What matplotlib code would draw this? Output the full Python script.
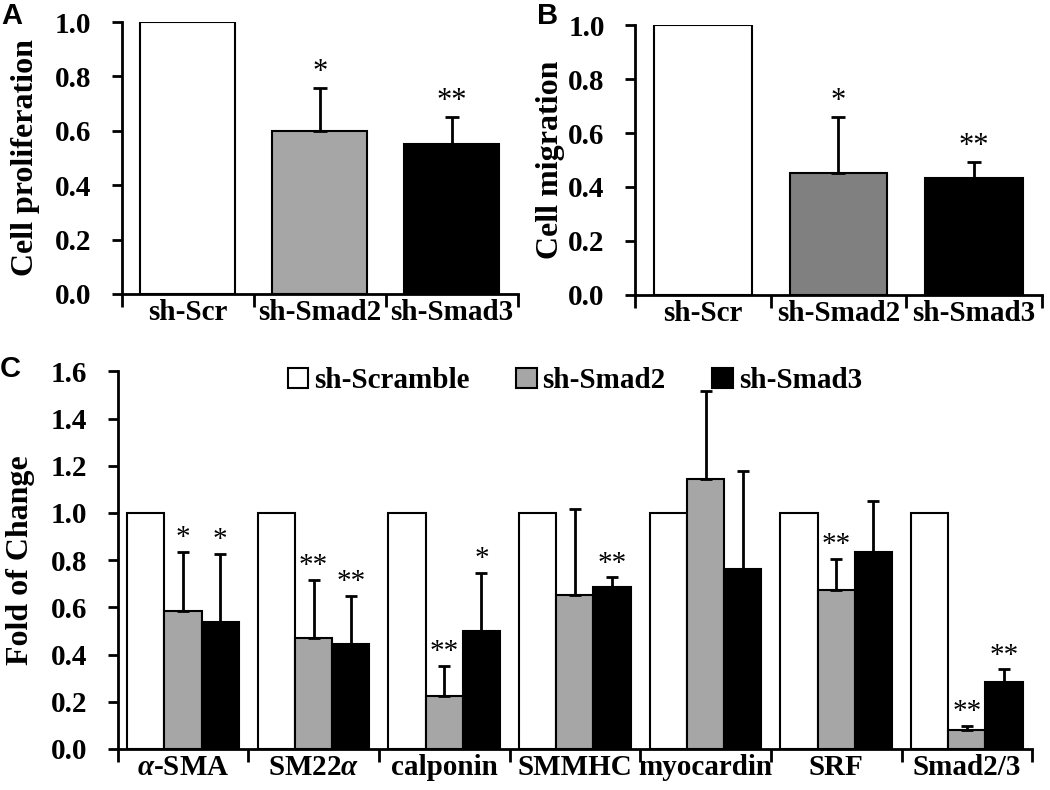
import matplotlib.pyplot as plt
import numpy as np

plt.rcParams['font.family'] = 'Liberation Serif'
plt.rcParams['font.weight'] = 'bold'

# panel A / B data
ab_groups = ['sh-Scr', 'sh-Smad2', 'sh-Smad3']
prolif = [1.0, 0.60, 0.55]
prolif_err = [0, 0.157, 0.10]
prolif_stars = ['', '*', '**']
migr = [1.0, 0.45, 0.433]
migr_err = [0, 0.21, 0.06]
migr_stars = ['', '*', '**']

# panel C data
genes = ['$\\mathit{\\alpha}$-SMA', 'SM22$\\mathit{\\alpha}$', 'calponin', 'SMMHC', 'myocardin', 'SRF', 'Smad2/3']
scramble = [1, 1, 1, 1, 1, 1, 1]
smad2 = [0.585, 0.47, 0.225, 0.653, 1.144, 0.674, 0.08]
smad2_err = [0.25, 0.246, 0.127, 0.364, 0.373, 0.131, 0.017]
smad2_stars = ['*', '**', '**', '', '', '**', '**']
smad3 = [0.538, 0.445, 0.50, 0.686, 0.763, 0.835, 0.283]
smad3_err = [0.288, 0.203, 0.246, 0.042, 0.415, 0.215, 0.055]
smad3_stars = ['*', '**', '*', '**', '', '', '**']

plt.rcParams['mathtext.fontset'] = 'custom'
plt.rcParams['mathtext.it'] = 'Liberation Serif:italic:bold'
plt.rcParams['mathtext.rm'] = 'Liberation Serif:bold'

fig = plt.figure(figsize=(10.5, 7.9), dpi=100)

def style(ax, n, ymax, step):
    for s in ['top', 'right']:
        ax.spines[s].set_visible(False)
    for s in ['left', 'bottom']:
        ax.spines[s].set_linewidth(2)
    ax.set_xlim(0, n)
    ax.set_ylim(0, ymax)
    ax.set_yticks(np.arange(0, ymax + 0.001, step))
    ax.set_yticklabels(['%.1f' % v for v in np.arange(0, ymax + 0.001, step)], fontsize=21, fontweight='bold')
    ax.tick_params(axis='y', width=2, length=7, pad=15)
    ax.set_xticks(np.arange(n) + 0.5)
    ax.tick_params(axis='x', length=0, pad=4)
    ax.set_xticks(np.arange(n + 1), minor=True)
    ax.tick_params(axis='x', which='minor', width=2, length=9, direction='out')

def star(ax, x, y, s, fs=21):
    if s:
        ax.annotate(s, (x, y), xytext=(0, -3), textcoords='offset points',
                    ha='center', va='bottom', fontsize=fs, fontweight='normal')

def small_panel(ax, vals, errs, stars, colors, ylabel, lx):
    x = np.arange(len(vals)) + 0.5
    ax.bar(x, vals, width=0.72, color=colors, edgecolor='black', linewidth=1.5, zorder=2)
    for i in range(len(vals)):
        if errs[i] > 0:
            ax.errorbar(x[i], vals[i], yerr=[[0], [errs[i]]], color='black',
                        elinewidth=2, capsize=5, capthick=2, zorder=3)
            star(ax, x[i], vals[i] + errs[i] + 0.02, stars[i], fs=22)
    style(ax, len(vals), 1.0, 0.2)
    ax.set_xticklabels(ab_groups, fontsize=21, fontweight='bold')
    ax.set_ylabel(ylabel, fontsize=23, fontweight='bold')
    ax.yaxis.set_label_coords(lx, 0.5)

axA = fig.add_axes([0.116, 0.628, 0.377, 0.344])
small_panel(axA, prolif, prolif_err, prolif_stars, ['white', '#a6a6a6', 'black'], 'Cell proliferation', -0.207)
axB = fig.add_axes([0.605, 0.627, 0.387, 0.341])
small_panel(axB, migr, migr_err, migr_stars, ['white', '#808080', 'black'], 'Cell migration', -0.172)

axC = fig.add_axes([0.112, 0.052, 0.871, 0.478])
xc = np.arange(len(genes)) + 0.5
w = 0.285
axC.bar(xc - w, scramble, width=w, color='white', edgecolor='black', linewidth=1.5, label='sh-Scramble', zorder=2)
axC.bar(xc, smad2, width=w, color='#a6a6a6', edgecolor='black', linewidth=1.5, label='sh-Smad2', zorder=2)
axC.bar(xc + w, smad3, width=w, color='black', edgecolor='black', linewidth=1.5, label='sh-Smad3', zorder=2)
for i in range(len(genes)):
    axC.errorbar(xc[i], smad2[i], yerr=[[0], [smad2_err[i]]], color='black',
                 elinewidth=2, capsize=4, capthick=2, zorder=3)
    axC.errorbar(xc[i] + w, smad3[i], yerr=[[0], [smad3_err[i]]], color='black',
                 elinewidth=2, capsize=4, capthick=2, zorder=3)
    star(axC, xc[i], smad2[i] + smad2_err[i] + 0.02, smad2_stars[i])
    star(axC, xc[i] + w, smad3[i] + smad3_err[i] + 0.02, smad3_stars[i])
style(axC, len(genes), 1.6, 0.2)
axC.set_xticklabels(genes, fontsize=21, fontweight='bold')
axC.set_ylabel('Fold of Change', fontsize=23, fontweight='bold')
axC.yaxis.set_label_coords(-0.09, 0.5)
axC.legend(loc='upper center', bbox_to_anchor=(0.5, 1.08), ncol=3, frameon=False,
           prop={'size': 21, 'weight': 'bold'}, handlelength=0.7, handleheight=0.7,
           handletextpad=0.2, columnspacing=1.6)

for lab, x, y in [('A', 0.001, 0.998), ('B', 0.511, 0.998), ('C', 0.0, 0.551)]:
    fig.text(x, y, lab, fontsize=21, fontweight='bold', family='Liberation Sans', va='top')

plt.savefig('out.png', dpi=100)
